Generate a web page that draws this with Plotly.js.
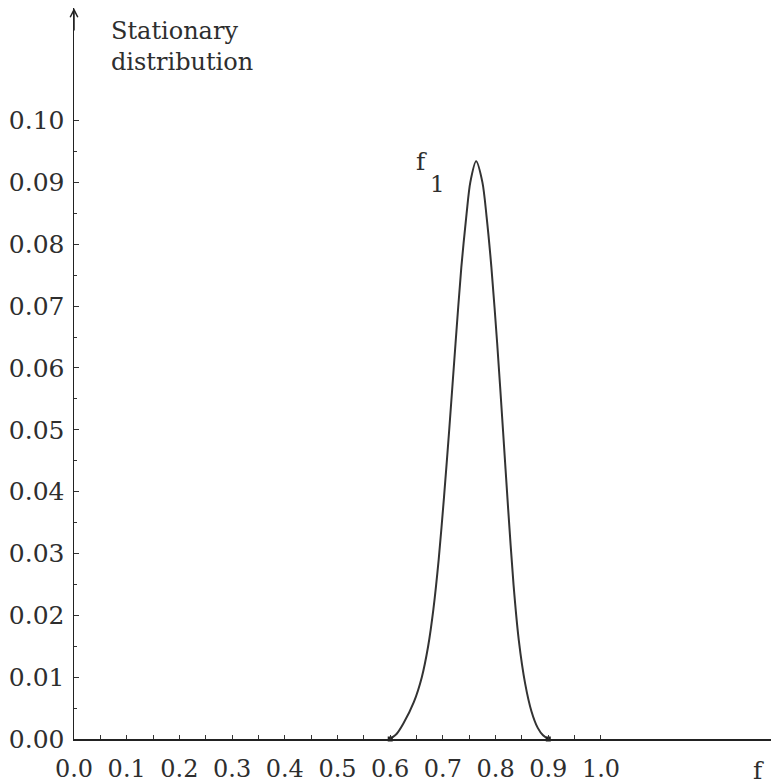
<!DOCTYPE html>
<html>
<head>
<meta charset="utf-8">
<script src="https://cdn.plot.ly/plotly-3.0.1.min.js"></script>
<style>html,body{margin:0;padding:0;background:#fff;}#chart{width:771px;height:784px;}</style>
</head>
<body>
<div id="chart"></div>
<script>
// Curve f1: stationary distribution
const freq = [0.600, 0.612, 0.625, 0.645, 0.660, 0.672, 0.682, 0.692, 0.702, 0.712, 0.724, 0.735, 0.745, 0.752, 0.763,
              0.775, 0.783, 0.792, 0.803, 0.814, 0.824, 0.834, 0.844, 0.856, 0.868, 0.880, 0.890, 0.900];
const density = [0.0000, 0.0008, 0.0025, 0.0060, 0.0100, 0.0150, 0.0210, 0.0290, 0.0390, 0.0500, 0.0640, 0.0763, 0.0850, 0.0900, 0.0934,
                 0.0900, 0.0844, 0.0763, 0.0640, 0.0500, 0.0370, 0.0250, 0.0160, 0.0090, 0.0045, 0.0018, 0.0006, 0.0000];

const xTickVals = [0, 0.05, 0.1, 0.15, 0.2, 0.25, 0.3, 0.35, 0.4, 0.45, 0.5, 0.55, 0.6, 0.65, 0.7, 0.75, 0.8, 0.85, 0.9, 0.95, 1.0];
const xTickText = ["0.0", "", "0.1", "", "0.2", "", "0.3", "", "0.4", "", "0.5", "", "0.6", "", "0.7", "", "0.8", "", "0.9", "", "1.0"];
const yTickVals = [0, 0.01, 0.02, 0.03, 0.04, 0.05, 0.06, 0.07, 0.08, 0.09, 0.10];
const yTickText = ["0.00", "0.01", "0.02", "0.03", "0.04", "0.05", "0.06", "0.07", "0.08", "0.09", "0.10"];
const yMinorVals = [0.005, 0.015, 0.025, 0.035, 0.045, 0.055, 0.065, 0.075, 0.085, 0.095];

const serif = "DejaVu Serif";
const ink = '#2e2e2e';

const curve = {
  x: freq, y: density, type: 'scatter', mode: 'lines',
  line: {color: '#333333', width: 2, shape: 'spline', smoothing: 0.8},
  hoverinfo: 'skip', showlegend: false
};
const ends = {
  x: [freq[0], freq[freq.length - 1]], y: [density[0], density[density.length - 1]],
  type: 'scatter', mode: 'markers',
  marker: {color: '#222222', size: 5, symbol: 'square'},
  hoverinfo: 'skip', showlegend: false, cliponaxis: false
};

const layout = {
  width: 771, height: 784,
  margin: {l: 74, r: 0, t: 8, b: 45, pad: 0},
  paper_bgcolor: '#ffffff', plot_bgcolor: '#ffffff',
  font: {family: serif, size: 25, color: ink},
  xaxis: {
    range: [0, 1.3226], showgrid: false, zeroline: false,
    showline: true, linecolor: '#222222', linewidth: 1.5,
    tickmode: 'array', tickvals: xTickVals, ticktext: xTickText,
    ticks: 'inside', ticklen: 4, tickwidth: 1, tickcolor: '#333333',
    ticklabelstandoff: 8,
    tickfont: {family: serif, size: 24, color: ink}
  },
  yaxis: {
    range: [0, 0.1182], showgrid: false, zeroline: false,
    showline: true, linecolor: '#222222', linewidth: 1.5,
    tickmode: 'array', tickvals: yTickVals, ticktext: yTickText,
    ticks: 'inside', ticklen: 5, tickwidth: 1, tickcolor: '#333333',
    ticklabelstandoff: 3,
    tickfont: {family: serif, size: 25, color: ink},
    minor: {tickmode: 'array', tickvals: yMinorVals, ticks: 'inside', ticklen: 3, tickwidth: 1, tickcolor: '#333333'}
  },
  annotations: [
    {xref: 'paper', yref: 'paper', x: 0, y: 1, ax: 0, ay: 24, showarrow: true,
     arrowhead: 5, arrowsize: 1, arrowwidth: 1.5, arrowcolor: '#222222', text: ''},
    {xref: 'paper', yref: 'paper', x: 0.050, y: 0.990, xanchor: 'left', yanchor: 'top',
     showarrow: false, align: 'left', text: 'Stationary<br>distribution',
     font: {family: serif, size: 24, color: ink}},
    {xref: 'paper', yref: 'paper', x: 0.982, y: -0.021, xanchor: 'center', yanchor: 'top',
     showarrow: false, text: 'f', font: {family: serif, size: 25, color: ink}},
    {xref: 'x', yref: 'y', x: 0.660, y: 0.0933, xanchor: 'center', yanchor: 'middle',
     showarrow: false, text: 'f', font: {family: serif, size: 25, color: ink}},
    {xref: 'x', yref: 'y', x: 0.689, y: 0.0897, xanchor: 'center', yanchor: 'middle',
     showarrow: false, text: '1', font: {family: serif, size: 23, color: ink}}
  ]
};

Plotly.newPlot('chart', [curve, ends], layout, {displayModeBar: false, staticPlot: true});
</script>
</body>
</html>
